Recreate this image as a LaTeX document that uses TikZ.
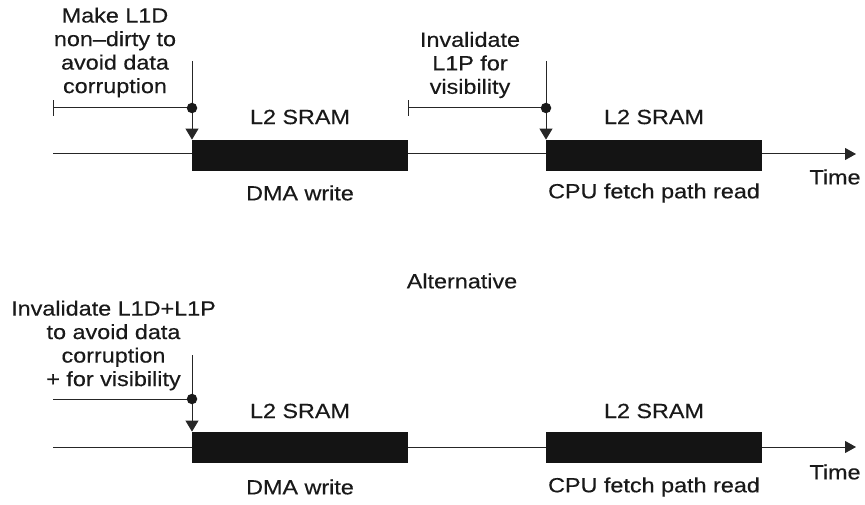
\documentclass[tikz,border=0pt]{standalone}
\usepackage{fontspec}
\setmainfont{Liberation Sans}[FakeStretch=1.14,FakeBold=0.35]
\usetikzlibrary{arrows.meta}
\begin{document}
\begin{tikzpicture}[x=1pt,y=1pt,
  lbl/.style={font=\fontsize{20.5}{23.5}\selectfont, inner sep=0pt, align=center, text=black!90},
  bar/.style={fill=black!92, draw=none, minimum width=216pt, minimum height=31pt, inner sep=0pt, anchor=south west},
  tl/.style={line width=1pt, draw=black!85, -{Triangle[length=11pt,width=12pt]}},
  ln/.style={line width=1pt, draw=black!85},
  dn/.style={line width=1pt, draw=black!85, -{Triangle[length=11pt,width=13pt]}},
  dot/.style={circle, fill=black!90, inner sep=0pt, minimum size=10.5pt},
]
\useasboundingbox (0,0) rectangle (865,504);

% ---------- top row ----------
\coordinate (tA) at (53,350);
\coordinate (tB) at (856,350);
\draw[tl] (tA) -- (tB);
\node[bar] (b1) at (192,333) {};
\node[bar] (b2) at (546,333) {};

\coordinate (v1) at (192,443);
\coordinate (c1) at (192,396);
\coordinate (k1) at (53,396);
\draw[dn] (v1) -- (b1.north west);
\draw[ln] (k1) -- (c1);
\draw[ln] ([yshift=-8pt]k1) -- ([yshift=8pt]k1);
\node[dot] (d1) at (c1) {};

\coordinate (v2) at (546,443);
\coordinate (c2) at (546,396);
\coordinate (k2) at (408,396);
\draw[dn] (v2) -- (b2.north west);
\draw[ln] (k2) -- (c2);
\draw[ln] ([yshift=-8pt]k2) -- ([yshift=8pt]k2);
\node[dot] (d2) at (c2) {};

\node[lbl] (m1) at (115,451.5) {Make L1D\\non–dirty to\\avoid data\\corruption};
\node[lbl] (m2) at (470,439) {Invalidate\\L1P for\\visibility};
\node[lbl] (s1) at (300,387) {L2 SRAM};
\node[lbl] (s2) at (654,387) {L2 SRAM};
\node[lbl] (w1) at (300,311) {DMA write};
\node[lbl] (r1) at (654,311) {CPU fetch path read};
\node[lbl] (t1) at (835,327) {Time};

% ---------- alternative ----------
\node[lbl] (alt) at (462,223) {Alternative};

\coordinate (uA) at (53,57);
\coordinate (uB) at (856,57);
\draw[tl] (uA) -- (uB);
\node[bar] (b3) at (192,41) {};
\node[bar] (b4) at (546,41) {};

\coordinate (v3) at (192,149);
\coordinate (c3) at (192,105);
\coordinate (k3) at (53,105);
\draw[dn] (v3) -- (b3.north west);
\draw[ln] (k3) -- (c3);
\node[dot] (d3) at (c3) {};

\node[lbl] (m3) at (113.5,158.5) {Invalidate L1D+L1P\\to avoid data\\corruption\\+ for visibility};
\node[lbl] (s3) at (300,93) {L2 SRAM};
\node[lbl] (s4) at (654,93) {L2 SRAM};
\node[lbl] (w3) at (300,17) {DMA write};
\node[lbl] (r3) at (654,17) {CPU fetch path read};
\node[lbl] (t3) at (835,32) {Time};
\end{tikzpicture}
\end{document}
